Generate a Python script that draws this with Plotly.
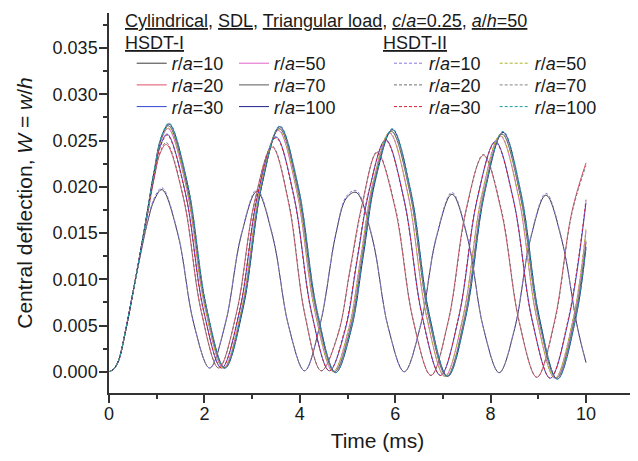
import plotly.graph_objects as go

# ---------------- data ----------------
RA_LABELS = ["10", "20", "30", "50", "70", "100"]

T_R10 = [0, 0.1, 0.2, 0.35, 0.5, 0.65, 0.8, 0.95, 1.11, 1.443, 1.777, 2.11, 2.44, 2.77, 3.10,
         3.433, 3.767, 4.10, 4.43, 4.76, 4.98, 5.18, 5.517, 5.853, 6.19, 6.523, 6.857, 7.19,
         7.52, 7.85, 8.18, 8.507, 8.833, 9.16, 9.49, 9.82, 10.0]
W1_R10 = [0, 0.0003, 0.0012, 0.0045, 0.0085, 0.0124, 0.0160, 0.0186, 0.0197, 0.0149, 0.0052,
          0.0004, 0.0052, 0.0147, 0.0195, 0.0146, 0.0049, 0.0001, 0.0052, 0.0150, 0.0188, 0.0194,
          0.0145, 0.0048, 0.0000, 0.0048, 0.0144, 0.0192, 0.0144, 0.0047, -0.0001, 0.0047, 0.0143,
          0.0191, 0.0143, 0.0048, 0.0010]
W2_R10 = [0, 0.0003, 0.0012, 0.0045, 0.0085, 0.0125, 0.0161, 0.0188, 0.0199, 0.0150, 0.0052,
          0.0004, 0.0053, 0.0148, 0.0197, 0.0147, 0.0049, 0.0001, 0.0053, 0.0151, 0.0190, 0.0196,
          0.0146, 0.0048, 0.0000, 0.0049, 0.0145, 0.0194, 0.0145, 0.0047, -0.0001, 0.0048, 0.0144,
          0.0193, 0.0144, 0.0048, 0.0010]

T_R20 = [0, 0.1, 0.2, 0.35, 0.5, 0.65, 0.8, 0.95, 1.07, 1.20, 1.567, 1.933, 2.30, 2.673, 3.047,
         3.42, 3.763, 4.107, 4.45, 4.80, 5.05, 5.30, 5.62, 5.997, 6.373, 6.75, 7.117, 7.483, 7.85,
         8.223, 8.597, 8.97, 9.337, 9.703, 10.0]
W1_R20 = [0, 0.0003, 0.0012, 0.0045, 0.0085, 0.0126, 0.0168, 0.0210, 0.0236, 0.0246, 0.0186,
          0.0065, 0.0004, 0.0064, 0.0183, 0.0243, 0.0183, 0.0061, 0.0001, 0.0040, 0.0110, 0.0180,
          0.0237, 0.0177, 0.0056, -0.0004, 0.0056, 0.0175, 0.0234, 0.0174, 0.0054, -0.0006,
          0.0054, 0.0173, 0.0226]
W2_R20 = [0, 0.0003, 0.0012, 0.0045, 0.0085, 0.0126, 0.0168, 0.0211, 0.0237, 0.0248, 0.0187,
          0.0066, 0.0004, 0.0063, 0.0182, 0.0244, 0.0185, 0.0062, 0.0001, 0.0041, 0.0108, 0.0178,
          0.0238, 0.0179, 0.0057, -0.0004, 0.0055, 0.0173, 0.0235, 0.0176, 0.0055, -0.0006,
          0.0052, 0.0171, 0.0223]

T_R30 = [0, 0.1, 0.2, 0.35, 0.5, 0.65, 0.8, 0.95, 1.08, 1.22, 1.60, 1.98, 2.36, 2.74, 3.12, 3.50,
         3.873, 4.247, 4.62, 4.95, 5.20, 5.45, 5.80, 6.183, 6.567, 6.95, 7.333, 7.717, 8.10,
         8.483, 8.867, 9.25, 9.633, 10.0]
W1_R30 = [0, 0.0003, 0.0012, 0.0045, 0.0085, 0.0127, 0.0170, 0.0214, 0.0245, 0.0257, 0.0194,
          0.0067, 0.0004, 0.0066, 0.0192, 0.0254, 0.0191, 0.0064, 0.0001, 0.0045, 0.0120, 0.0195,
          0.0251, 0.0187, 0.0060, -0.0004, 0.0059, 0.0186, 0.0249, 0.0185, 0.0057, -0.0007,
          0.0056, 0.0183]
W2_R30 = [0, 0.0003, 0.0012, 0.0045, 0.0085, 0.0127, 0.0170, 0.0213, 0.0244, 0.0256, 0.0193,
          0.0066, 0.0004, 0.0067, 0.0193, 0.0253, 0.0190, 0.0063, 0.0001, 0.0047, 0.0122, 0.0196,
          0.0250, 0.0186, 0.0059, -0.0004, 0.0060, 0.0187, 0.0248, 0.0184, 0.0056, -0.0007,
          0.0058, 0.0186]

T_R50 = [0, 0.1, 0.2, 0.35, 0.5, 0.65, 0.8, 0.95, 1.09, 1.24, 1.627, 2.013, 2.40, 2.783, 3.167,
         3.55, 3.933, 4.317, 4.70, 5.03, 5.28, 5.53, 5.88, 6.267, 6.653, 7.04, 7.427, 7.813, 8.20,
         8.583, 8.967, 9.35, 9.737, 10.0]
W1_R50 = [0, 0.0003, 0.0012, 0.0045, 0.0085, 0.0127, 0.0171, 0.0216, 0.0250, 0.0263, 0.0198,
          0.0069, 0.0004, 0.0068, 0.0197, 0.0261, 0.0196, 0.0065, 0.0000, 0.0047, 0.0124, 0.0203,
          0.0258, 0.0192, 0.0061, -0.0005, 0.0060, 0.0190, 0.0255, 0.0190, 0.0058, -0.0007,
          0.0058, 0.0152]
W2_R50 = [0, 0.0003, 0.0012, 0.0045, 0.0085, 0.0127, 0.0171, 0.0217, 0.0251, 0.0264, 0.0199,
          0.0069, 0.0004, 0.0069, 0.0198, 0.0262, 0.0197, 0.0065, 0.0000, 0.0048, 0.0125, 0.0204,
          0.0259, 0.0193, 0.0061, -0.0005, 0.0061, 0.0191, 0.0256, 0.0191, 0.0058, -0.0007,
          0.0059, 0.0155]

T_R70 = [0, 0.1, 0.2, 0.35, 0.5, 0.65, 0.8, 0.95, 1.10, 1.25, 1.64, 2.03, 2.42, 2.803, 3.187,
         3.57, 3.957, 4.343, 4.73, 5.06, 5.31, 5.56, 5.92, 6.307, 6.693, 7.08, 7.467, 7.853, 8.24,
         8.62, 9.00, 9.38, 9.767, 10.0]
W1_R70 = [0, 0.0003, 0.0012, 0.0045, 0.0085, 0.0127, 0.0172, 0.0217, 0.0253, 0.0266, 0.0200,
          0.0070, 0.0004, 0.0069, 0.0198, 0.0263, 0.0197, 0.0066, 0.0000, 0.0047, 0.0125, 0.0205,
          0.0260, 0.0194, 0.0061, -0.0005, 0.0061, 0.0192, 0.0257, 0.0191, 0.0059, -0.0007,
          0.0059, 0.0140]
W2_R70 = [0, 0.0003, 0.0012, 0.0045, 0.0085, 0.0127, 0.0172, 0.0218, 0.0254, 0.0267, 0.0201,
          0.0071, 0.0004, 0.0070, 0.0199, 0.0264, 0.0198, 0.0066, 0.0000, 0.0048, 0.0126, 0.0206,
          0.0261, 0.0195, 0.0062, -0.0005, 0.0062, 0.0193, 0.0258, 0.0192, 0.0059, -0.0007,
          0.0060, 0.0142]

T_R100 = [0, 0.1, 0.2, 0.35, 0.5, 0.65, 0.8, 0.95, 1.10, 1.26, 1.65, 2.04, 2.43, 2.813, 3.197,
          3.58, 3.97, 4.36, 4.75, 5.08, 5.33, 5.58, 5.94, 6.327, 6.713, 7.10, 7.487, 7.873, 8.26,
          8.64, 9.02, 9.40, 9.787, 10.0]
W1_R100 = [0, 0.0003, 0.0012, 0.0045, 0.0085, 0.0127, 0.0172, 0.0218, 0.0254, 0.0268, 0.0202,
           0.0070, 0.0004, 0.0069, 0.0200, 0.0265, 0.0199, 0.0066, -0.0001, 0.0046, 0.0125,
           0.0206, 0.0262, 0.0195, 0.0062, -0.0005, 0.0061, 0.0193, 0.0259, 0.0192, 0.0059,
           -0.0008, 0.0058, 0.0135]
W2_R100 = [0, 0.0003, 0.0012, 0.0045, 0.0085, 0.0127, 0.0172, 0.0219, 0.0255, 0.0269, 0.0203,
           0.0071, 0.0004, 0.0070, 0.0201, 0.0266, 0.0200, 0.0067, -0.0001, 0.0047, 0.0127,
           0.0207, 0.0263, 0.0196, 0.0062, -0.0005, 0.0062, 0.0194, 0.0260, 0.0193, 0.0059,
           -0.0008, 0.0059, 0.0134]

X_TICKS = [0, 2, 4, 6, 8, 10]
Y_TICKS = [0.000, 0.005, 0.010, 0.015, 0.020, 0.025, 0.030, 0.035]

TIMES = [T_R10, T_R20, T_R30, T_R50, T_R70, T_R100]
HSDT1 = [W1_R10, W1_R20, W1_R30, W1_R50, W1_R70, W1_R100]
HSDT2 = [W2_R10, W2_R20, W2_R30, W2_R50, W2_R70, W2_R100]

# ---------------- styling ----------------
FONT = "Arial, Liberation Sans, sans-serif"
TXT = "#1a1a1a"
COL1 = ["#3a3a3a", "#e0506a", "#3344d4", "#e060c8", "#5a5a5a", "#22228c"]
COL2 = ["#8c78e0", "#707070", "#d42030", "#a8b428", "#858585", "#1fa0a0"]

# plot area in pixels
W_PX, H_PX = 638, 461
ML, MR, MT, MB = 101, 0, 5, 76
PW, PH = W_PX - ML - MR, H_PX - MT - MB
PX_PER_MS = 47.7

def px_x(x):
    return (x - ML) / PW

def px_y(y):
    return (H_PX - MB - y) / PH

# legend grid: (column text-left minus 40) and row centres, in pixels
COL_LEFT_1 = [123.7, 226.0]
COL_LEFT_2 = [381.0, 486.7]
ROW_Y = [55.5, 77.2, 98.9]

fig = go.Figure()
layout_legends = {}
k = 0
for theory, data, cols, colleft, dash in (
        ("HSDT-I", HSDT1, COL1, COL_LEFT_1, "solid"),
        ("HSDT-II", HSDT2, COL2, COL_LEFT_2, "3px,2px")):
    for i, lab in enumerate(RA_LABELS):
        k += 1
        lname = "legend" if k == 1 else f"legend{k}"
        col = i // 3
        row = i % 3
        fig.add_trace(go.Scatter(
            x=TIMES[i], y=data[i], mode="lines",
            name=f"<i>r</i>/<i>a</i>={lab}",
            line=dict(color=cols[i], width=1, dash=dash, shape="spline", smoothing=1.0),
            legend=lname, showlegend=True,
            legendgroup=theory,
        ))
        layout_legends[lname] = dict(
            x=px_x(colleft[col]), y=px_y(ROW_Y[row]),
            xanchor="left", yanchor="middle",
            bgcolor="rgba(0,0,0,0)", borderwidth=0,
            font=dict(family=FONT, size=18, color=TXT),
            itemwidth=30, tracegroupgap=0,
        )

fig.update_layout(**layout_legends)

title_txt = ("<u>Cylindrical</u>, <u>SDL</u>, <u>Triangular load</u>, "
             "<u><i>c</i>/<i>a</i>=0.25</u>, <u><i>a</i>/<i>h</i>=50</u>")
fig.add_annotation(x=px_x(115), y=px_y(13), xref="paper", yref="paper", text=title_txt,
                   showarrow=False, xanchor="left", yanchor="middle",
                   font=dict(family=FONT, size=18, color=TXT))
fig.add_annotation(x=px_x(115), y=px_y(35.5), xref="paper", yref="paper", text="<u>HSDT-I</u>",
                   showarrow=False, xanchor="left", yanchor="middle",
                   font=dict(family=FONT, size=18, color=TXT))
fig.add_annotation(x=px_x(373), y=px_y(35.5), xref="paper", yref="paper", text="<u>HSDT-II</u>",
                   showarrow=False, xanchor="left", yanchor="middle",
                   font=dict(family=FONT, size=18, color=TXT))

axis_common = dict(
    showgrid=False, zeroline=False, showline=True, linecolor="#333333", linewidth=1.5,
    ticks="outside", ticklen=8, tickwidth=1.5, tickcolor="#333333",
    tickfont=dict(family=FONT, size=18, color=TXT), mirror=False,
)
fig.update_xaxes(
    range=[0, PW / PX_PER_MS], tickvals=X_TICKS, ticktext=[str(v) for v in X_TICKS],
    minor=dict(ticks="outside", ticklen=4, tickwidth=1.5, tickcolor="#333333", dtick=1, tick0=0),
    ticklabelstandoff=-4,
    title=dict(text="Time (ms)", font=dict(family=FONT, size=21, color=TXT), standoff=10),
    **axis_common,
)
fig.update_yaxes(
    range=[-0.0023, 0.0388], tickvals=Y_TICKS, ticktext=[f"{v:.3f}" for v in Y_TICKS],
    minor=dict(ticks="outside", ticklen=4, tickwidth=1.5, tickcolor="#333333", dtick=0.0025, tick0=0),
    ticklabelstandoff=-2,
    title=dict(text="Central deflection, <i>W</i> = <i>w</i>/<i>h</i>",
               font=dict(family=FONT, size=21, color=TXT), standoff=14),
    **axis_common,
)
fig.update_layout(
    width=W_PX, height=H_PX,
    margin=dict(l=ML, r=MR, t=MT, b=MB, autoexpand=False),
    paper_bgcolor="white", plot_bgcolor="white",
    font=dict(family=FONT, color=TXT),
)

fig.write_html("out.html")
